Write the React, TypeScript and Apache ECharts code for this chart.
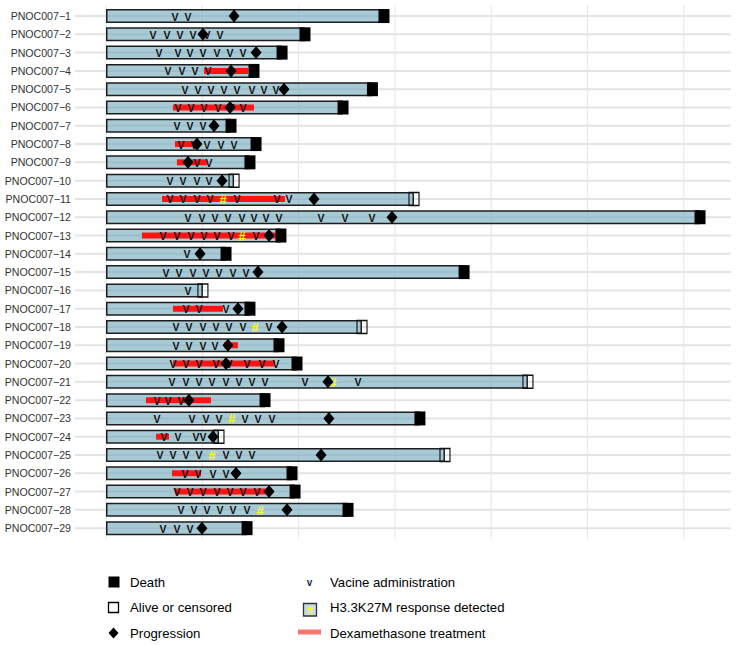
import React, { useEffect, useRef } from "react";
import * as echarts from "echarts";

const patients = [
  "PNOC007−1", "PNOC007−2", "PNOC007−3", "PNOC007−4", "PNOC007−5", "PNOC007−6", "PNOC007−7",
  "PNOC007−8", "PNOC007−9", "PNOC007−10", "PNOC007−11", "PNOC007−12", "PNOC007−13", "PNOC007−14",
  "PNOC007−15", "PNOC007−16", "PNOC007−17", "PNOC007−18", "PNOC007−19", "PNOC007−20", "PNOC007−21",
  "PNOC007−22", "PNOC007−23", "PNOC007−24", "PNOC007−25", "PNOC007−26", "PNOC007−27", "PNOC007−28",
  "PNOC007−29",
];

// follow-up time (months)
const endTime = [
  17.32, 12.4, 10.97, 9.22, 16.6, 14.77, 7.79, 9.35, 8.97, 7.98, 19.19, 37.01, 10.9, 7.48, 22.31,
  6.04, 8.97, 15.95, 10.78, 11.9, 26.29, 9.91, 19.56, 7.04, 21.12, 11.59, 11.78, 15.08, 8.79,
];

const status = [
  "death", "death", "death", "death", "death", "death", "death", "death", "death", "alive",
  "alive", "death", "death", "death", "death", "alive", "death", "alive", "death", "death",
  "alive", "death", "death", "alive", "alive", "death", "death", "death", "death",
];

const progression: (number | null)[] = [
  7.98, 6.04, 9.35, 7.79, 11.09, 7.73, 6.73, 5.67, 5.11, 7.23, 12.96, 17.82, 10.16, 5.86, 9.47,
  null, 8.22, 10.97, 7.6, 7.48, 13.83, 5.17, 13.89, 6.67, 13.4, 8.1, 10.16, 11.28, 5.98,
];

const vaccines: number[][] = [
  [4.3, 5.11],
  [2.93, 3.8, 4.61, 5.42, 6.29, 7.1],
  [3.3, 4.49, 5.23, 6.04, 6.92, 7.73, 8.54],
  [3.86, 4.74, 5.55, 6.36],
  [4.92, 5.73, 6.54, 7.35, 8.16, 9.1, 9.84, 10.59],
  [4.49, 5.3, 6.11, 6.98, 7.79, 8.54],
  [4.42, 5.23, 6.04],
  [4.67, 5.48, 6.29, 7.17, 7.98],
  [5.67, 6.42],
  [3.99, 4.8, 5.67, 6.42],
  [3.99, 4.8, 5.67, 6.48, 8.16, 10.65, 11.4],
  [5.11, 5.98, 6.79, 7.6, 8.47, 9.22, 9.97, 10.78, 13.4, 14.89, 16.57],
  [3.55, 4.42, 5.3, 6.11, 6.92, 7.79, 9.35],
  [5.05],
  [3.74, 4.55, 5.42, 6.23, 7.04, 7.91, 8.72],
  [5.11],
  [4.98, 5.79, 7.48],
  [4.36, 5.17, 6.04, 6.85, 7.66, 8.54, 10.16],
  [4.36, 5.17, 6.04, 6.79],
  [4.17, 4.98, 5.79, 6.85, 7.66, 8.79, 9.72, 10.59],
  [4.11, 4.98, 5.79, 6.6, 7.48, 8.29, 9.1, 9.91, 12.4, 15.7],
  [3.18, 3.86, 4.67],
  [3.18, 5.36, 6.23, 7.04, 8.66, 9.47, 10.34],
  [3.61, 4.49, 5.61, 6.04],
  [3.36, 4.17, 4.98, 5.79, 7.48, 8.29, 9.1],
  [4.92, 5.73, 6.67, 7.48],
  [4.42, 5.23, 6.04, 6.92, 7.73, 8.54, 9.41],
  [4.67, 5.48, 6.29, 7.1, 7.91, 8.79],
  [3.55, 4.42, 5.23],
];

const dexStart: (number | null)[] = [
  null, null, null, 6.11, null, 4.17, null, 4.3, 4.42, null, 3.49, null, 2.24, null, null,
  null, 4.17, null, 7.35, 4.17, null, 2.49, null, 3.12, null, 4.11, 4.3, null, null,
];
const dexEnd: (number | null)[] = [
  null, null, null, 8.85, null, 9.22, null, 5.67, 6.29, null, 11.15, null, 10.65, null, null,
  null, 7.29, null, 8.22, 10.53, null, 6.54, null, 3.93, null, 5.92, 10.09, null, null,
];

const response: (number | null)[] = [
  null, null, null, null, null, null, null, null, null, null, 7.29, null, 8.47, null, null,
  null, null, 9.28, null, null, 14.14, null, 7.85, null, 6.6, null, null, 9.6, null,
];

const xTicks = [0, 6, 12, 18, 24, 30, 36];

const legendLeft = ["Death", "Alive or censored", "Progression"];
const legendRight = ["Vacine administration", "H3.3K27M response detected", "Dexamethasone treatment"];

const FONT = '"Liberation Sans", Arial, Helvetica, sans-serif';

export default function App() {
  const ref = useRef<HTMLDivElement>(null);
  useEffect(() => {
    if (!ref.current) return;
    const chart = echarts.init(ref.current, null, { renderer: "svg" });

    const rowData = patients.map((_, i) => [0, i]);
    const vData: number[][] = [];
    vaccines.forEach((arr, i) => arr.forEach((t) => vData.push([t, i])));
    const respData: number[][] = [];
    response.forEach((t, i) => { if (t !== null) respData.push([t, i]); });
    const progData: number[][] = [];
    progression.forEach((t, i) => { if (t !== null) progData.push([t, i]); });
    const dexData: number[][] = [];
    dexStart.forEach((s, i) => { const e = dexEnd[i]; if (s !== null && e !== null) dexData.push([s, i, e]); });
    const deathData: number[][] = [];
    const aliveData: number[][] = [];
    endTime.forEach((t, i) => (status[i] === "death" ? deathData : aliveData).push([t, i]));

    const textStyle = (text: string, font: string, fill: string) => ({
      text, x: 0, y: 0, font, fill, align: "center", verticalAlign: "middle",
      textAlign: "center", textVerticalAlign: "middle",
    });

    const lText = (text: string, x: number, y: number) => ({
      type: "text", x, y,
      style: {
        text, fill: "#000", fontSize: 13.2, fontFamily: FONT,
        verticalAlign: "middle", textVerticalAlign: "middle", align: "left", textAlign: "left",
      },
    });

    const option: any = {
      animation: false,
      grid: { left: 75, top: 6.9, width: 656, height: 530.4, containLabel: false },
      xAxis: {
        type: "value", min: -1.93, max: 38.94, show: false, splitLine: { show: false },
      },
      yAxis: {
        type: "category", data: patients, inverse: true,
        axisLine: { show: false }, axisTick: { show: false }, splitLine: { show: false },
        axisLabel: { fontSize: 10.6, color: "#333", fontFamily: FONT, margin: 4 },
      },
      series: [
        {
          type: "custom", name: "hgrid", data: rowData, z: 0, silent: true,
          renderItem: (params: any, api: any) => {
            const cs = params.coordSys;
            const y = api.coord([0, api.value(1)])[1];
            return {
              type: "line",
              shape: { x1: cs.x, y1: y, x2: cs.x + cs.width, y2: y },
              style: { stroke: "#e3e3e3", lineWidth: 2 },
            };
          },
        },
        {
          type: "custom", name: "vgrid", data: xTicks.map((t) => [t, 0]), z: 0, silent: true, clip: false,
          renderItem: (params: any, api: any) => {
            const cs = params.coordSys;
            const x = api.coord([api.value(0), 0])[0];
            return {
              type: "line",
              shape: { x1: x, y1: cs.y - 2, x2: x, y2: cs.y + cs.height + 2 },
              style: { stroke: "#e8e8e8", lineWidth: 1.2 },
            };
          },
        },
        {
          type: "bar", name: "bars", data: endTime, barWidth: 14, z: 2, silent: true,
          itemStyle: { color: "rgba(110,166,186,0.6)", borderColor: "#1e1e1e", borderWidth: 1.5 },
        },
        {
          type: "custom", name: "dex", data: dexData, z: 3, silent: true,
          renderItem: (_p: any, api: any) => {
            const a = api.coord([api.value(0), api.value(1)]);
            const b = api.coord([api.value(2), api.value(1)]);
            return {
              type: "rect",
              shape: { x: a[0], y: a[1] - 3, width: b[0] - a[0], height: 6 },
              style: { fill: "#ff1414" },
            };
          },
        },
        {
          type: "custom", name: "vaccine", data: vData, z: 4, silent: true,
          renderItem: (_p: any, api: any) => {
            const p = api.coord([api.value(0), api.value(1)]);
            return {
              type: "text", x: p[0], y: p[1] + 0.5,
              style: textStyle("V", `bold 10.5px ${FONT}`, "#111"),
            };
          },
        },
        {
          type: "custom", name: "response", data: respData, z: 4, silent: true,
          renderItem: (_p: any, api: any) => {
            const p = api.coord([api.value(0), api.value(1)]);
            return {
              type: "text", x: p[0], y: p[1] + 0.5,
              style: textStyle("#", `bold 13px ${FONT}`, "#ffff00"),
            };
          },
        },
        {
          type: "scatter", name: "progression", data: progData, z: 5, silent: true,
          symbol: "diamond", symbolSize: [11, 13], itemStyle: { color: "#000", opacity: 1 },
        },
        {
          type: "scatter", name: "death", data: deathData, z: 6, silent: true,
          symbol: "rect", symbolSize: [11, 14], itemStyle: { color: "#000", opacity: 1 },
        },
        {
          type: "scatter", name: "alive", data: aliveData, z: 6, silent: true,
          symbol: "rect", symbolSize: [10, 13],
          itemStyle: { color: "rgba(0,0,0,0)", borderColor: "#111", borderWidth: 1.3, opacity: 1 },
        },
      ],
      graphic: [
        { type: "rect", shape: { x: 108.5, y: 576.5, width: 11, height: 11 }, style: { fill: "#000" } },
        { type: "rect", shape: { x: 108.5, y: 602.5, width: 10, height: 10 }, style: { fill: "none", stroke: "#000", lineWidth: 1.3 } },
        { type: "polygon", shape: { points: [[113.5, 627.5], [118.5, 633], [113.5, 638.5], [108.5, 633]] }, style: { fill: "#000" } },
        lText(legendLeft[0], 130, 582),
        lText(legendLeft[1], 130, 607.5),
        lText(legendLeft[2], 130, 633),
        {
          type: "text", x: 309.5, y: 582.5,
          style: { text: "v", fill: "#1c2a4a", font: `bold 10px ${FONT}`, align: "center", verticalAlign: "middle", textAlign: "center", textVerticalAlign: "middle" },
        },
        { type: "rect", shape: { x: 303.5, y: 603.5, width: 13, height: 12.5 }, style: { fill: "#c6dbe4", stroke: "#333", lineWidth: 1.3 } },
        {
          type: "text", x: 310, y: 610,
          style: { text: "#", fill: "#ffff00", font: `bold 10px ${FONT}`, align: "center", verticalAlign: "middle", textAlign: "center", textVerticalAlign: "middle" },
        },
        { type: "rect", shape: { x: 298, y: 629.5, width: 23, height: 5 }, style: { fill: "#f8766d" } },
        lText(legendRight[0], 330, 582),
        lText(legendRight[1], 330, 607.5),
        lText(legendRight[2], 330, 633),
      ],
    };
    chart.setOption(option);
    return () => chart.dispose();
  }, []);

  return (
    <div
      ref={ref}
      style={{ position: "fixed", left: 0, top: 0, width: 736, height: 645, background: "#fff" }}
    />
  );
}
